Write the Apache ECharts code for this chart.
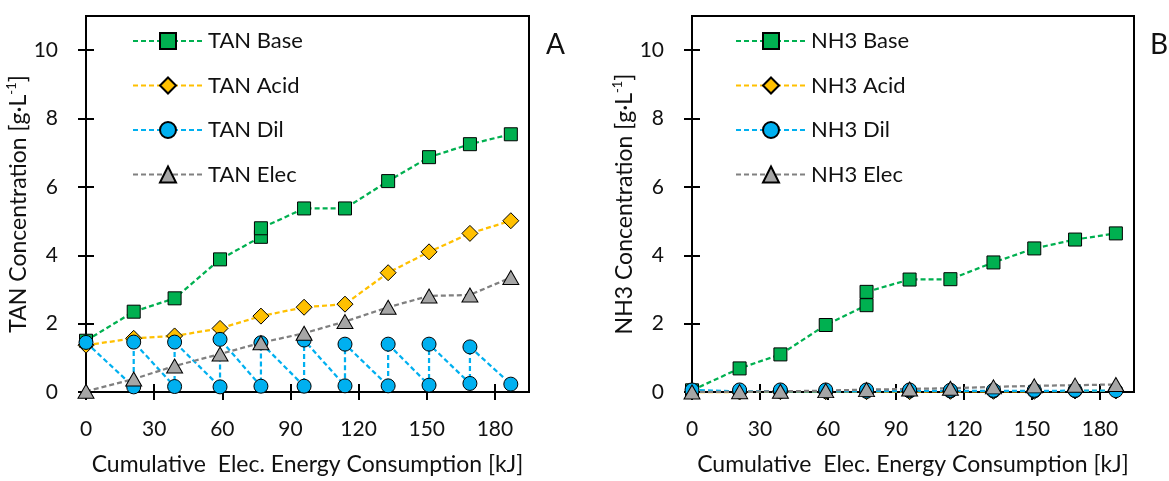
<!DOCTYPE html>
<html>
<head>
<meta charset="utf-8">
<script src="https://cdn.jsdelivr.net/npm/echarts@6/dist/echarts.min.js"></script>
<style>
  html, body { margin: 0; padding: 0; background: #fff; }
  #chart { width: 1169px; height: 481px; }
</style>
</head>
<body>
<div id="chart"></div>
<script>
// Cumulative electrical energy at each sampling point [kJ]
const energyKJ = [0, 21, 39, 59, 77, 96, 114, 133, 151, 169, 187];
// Base compartment was sampled twice at 77 kJ
const baseEnergyKJ = [0, 21, 39, 59, 77, 77, 96, 114, 133, 151, 169, 187];
// Diluate: concentration before (low) and after (high) each refill
const dilEnergyKJ = [0, 21, 21, 39, 39, 59, 59, 77, 77, 96, 96, 114, 114, 133, 133, 151, 151, 169, 169, 187];

// Panel A: TAN concentration [g/L]
const tanBase = [1.50, 2.35, 2.74, 3.88, 4.54, 4.79, 5.37, 5.37, 6.17, 6.87, 7.25, 7.54];
const tanAcid = [1.37, 1.57, 1.64, 1.86, 2.22, 2.48, 2.57, 3.49, 4.10, 4.64, 5.01];
const tanDil = [1.45, 0.15, 1.46, 0.16, 1.46, 0.15, 1.54, 0.17, 1.44, 0.17, 1.52, 0.18, 1.40, 0.18, 1.40, 0.20, 1.40, 0.25, 1.32, 0.23];
const tanElec = [0.02, 0.38, 0.76, 1.11, 1.44, 1.72, 2.06, 2.48, 2.81, 2.84, 3.35];

// Panel B: NH3 concentration [g/L]
const nh3Base = [0.05, 0.69, 1.10, 1.96, 2.54, 2.93, 3.29, 3.30, 3.79, 4.20, 4.46, 4.64];
const nh3Acid = [0.00, 0.00, 0.01, 0.01, 0.01, 0.01, 0.02, 0.02, 0.02, 0.03, 0.03];
const nh3Dil = [0.06, 0.02, 0.06, 0.02, 0.06, 0.02, 0.06, 0.02, 0.06, 0.03, 0.06, 0.03, 0.05, 0.03, 0.05, 0.03, 0.05, 0.04, 0.05, 0.04];
const nh3Elec = [0.00, 0.01, 0.02, 0.04, 0.07, 0.09, 0.11, 0.15, 0.18, 0.20, 0.22];

// Axis ticks
const xTicks = [0, 30, 60, 90, 120, 150, 180];
const yTicks = [0, 2, 4, 6, 8, 10];

const FONT = 'Lato, "Open Sans", sans-serif';
const INK = '#111';

const pairs = (xs, ys) => xs.map((x, i) => [x, ys[i]]);

function xAxes(gridIndex) {
  const base = {
    type: 'value', gridIndex, min: 0, max: 195, position: 'bottom',
    splitLine: { show: false }
  };
  return [
    Object.assign({}, base, {
      axisLine: { show: true, lineStyle: { color: '#000', width: 2 } },
      axisTick: { show: true, length: 8, customValues: xTicks, lineStyle: { color: '#000', width: 2 } },
      axisLabel: { customValues: xTicks, margin: 27, fontSize: 21, fontFamily: FONT, color: INK },
      name: 'Cumulative  Elec. Energy Consumption [kJ]',
      nameLocation: 'middle', nameGap: 61,
      nameTextStyle: { fontSize: 23, fontFamily: FONT, color: INK }
    }),
    Object.assign({}, base, {
      axisLine: { show: false },
      axisTick: { show: true, inside: true, length: 8, customValues: xTicks, lineStyle: { color: '#000', width: 2 } },
      axisLabel: { show: false }
    })
  ];
}

// Rotated axis title with a superscript unit exponent
function yTitle(species) {
  return '{t|' + species + ' Concentration [g·L}{s|-1}{t|]}';
}
const yTitleRich = {
  t: { fontSize: 23, fontFamily: FONT, color: INK, lineHeight: 26 },
  s: { fontSize: 13, fontFamily: FONT, color: INK, lineHeight: 13, verticalAlign: 'top' }
};

function yAxes(gridIndex, species, gap) {
  const base = {
    type: 'value', gridIndex, min: 0, max: 11, position: 'left',
    splitLine: { show: false }
  };
  return [
    Object.assign({}, base, {
      axisLine: { show: true, lineStyle: { color: '#000', width: 2 } },
      axisTick: { show: true, length: 8, customValues: yTicks, lineStyle: { color: '#000', width: 2 } },
      axisLabel: { customValues: yTicks, margin: 28, fontSize: 21, fontFamily: FONT, color: INK },
      name: yTitle(species), nameLocation: 'middle', nameGap: gap,
      nameTextStyle: { rich: yTitleRich }
    }),
    Object.assign({}, base, {
      axisLine: { show: false },
      axisTick: { show: true, inside: true, length: 8, customValues: yTicks, lineStyle: { color: '#000', width: 2 } },
      axisLabel: { show: false }
    })
  ];
}

const STYLES = {
  Base: { line: '#00B050', fill: '#00B050', symbol: 'rect', size: 13 },
  Acid: { line: '#FFC000', fill: '#FFC000', symbol: 'diamond', size: 16 },
  Dil:  { line: '#00B0F0', fill: '#00B0F0', symbol: 'circle', size: 14 },
  Elec: { line: '#808080', fill: '#A6A6A6', symbol: 'triangle', size: [16, 14] }
};

function lineSeries(name, kind, data, axisIndex) {
  const s = STYLES[kind];
  return {
    type: 'line', name, data,
    xAxisIndex: axisIndex, yAxisIndex: axisIndex,
    symbol: s.symbol, symbolSize: s.size, showSymbol: true, clip: false,
    lineStyle: { color: s.line, width: 2.25, type: [5, 3] },
    itemStyle: { color: s.fill, borderColor: '#000', borderWidth: 1 },
    emphasis: { disabled: true }
  };
}

function legendFor(names, left) {
  return {
    data: names, orient: 'vertical', left, top: 30, padding: 0,
    itemWidth: 70, itemHeight: 20, itemGap: 22.5, selectedMode: false,
    textStyle: { fontSize: 22, fontFamily: FONT, color: INK }
  };
}

const tanNames = ['TAN Base', 'TAN Acid', 'TAN Dil', 'TAN Elec'];
const nh3Names = ['NH3 Base', 'NH3 Acid', 'NH3 Dil', 'NH3 Elec'];

const option = {
  animation: false,
  backgroundColor: '#fff',
  textStyle: { fontFamily: FONT },
  title: [
    { text: 'A', left: 546, top: 31, padding: 0, textStyle: { fontSize: 28, fontWeight: 'normal', fontFamily: FONT, color: INK } },
    { text: 'B', left: 1150, top: 31, padding: 0, textStyle: { fontSize: 28, fontWeight: 'normal', fontFamily: FONT, color: INK } }
  ],
  legend: [legendFor(tanNames, 132), legendFor(nh3Names, 735)],
  grid: [
    { left: 86, top: 16, width: 443, height: 376, show: true, borderColor: '#000', borderWidth: 2, backgroundColor: 'transparent' },
    { left: 692, top: 16, width: 442, height: 376, show: true, borderColor: '#000', borderWidth: 2, backgroundColor: 'transparent' }
  ],
  xAxis: [...xAxes(0), ...xAxes(1)],
  yAxis: [
    ...yAxes(0, 'TAN', 49),
    ...yAxes(1, 'NH3', 52)
  ],
  series: [
    lineSeries('TAN Base', 'Base', pairs(baseEnergyKJ, tanBase), 0),
    lineSeries('TAN Acid', 'Acid', pairs(energyKJ, tanAcid), 0),
    lineSeries('TAN Dil', 'Dil', pairs(dilEnergyKJ, tanDil), 0),
    lineSeries('TAN Elec', 'Elec', pairs(energyKJ, tanElec), 0),
    lineSeries('NH3 Base', 'Base', pairs(baseEnergyKJ, nh3Base), 2),
    lineSeries('NH3 Acid', 'Acid', pairs(energyKJ, nh3Acid), 2),
    lineSeries('NH3 Dil', 'Dil', pairs(dilEnergyKJ, nh3Dil), 2),
    lineSeries('NH3 Elec', 'Elec', pairs(energyKJ, nh3Elec), 2)
  ]
};

const chart = echarts.init(document.getElementById('chart'), null, { renderer: 'canvas' });
chart.setOption(option);
</script>
</body>
</html>
